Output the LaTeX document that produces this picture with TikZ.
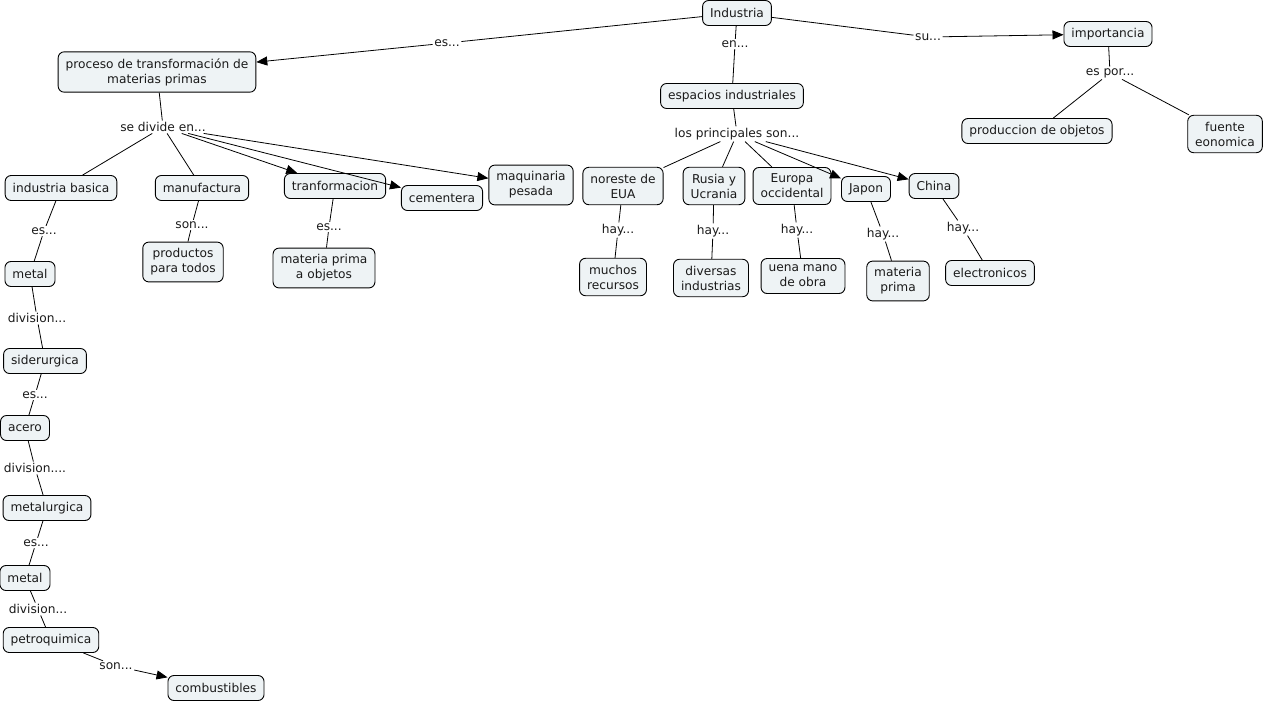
\documentclass[tikz,border=0pt]{standalone}
\usepackage{fontspec}
\setmainfont{DejaVu Sans}
\usetikzlibrary{arrows.meta}
\definecolor{boxfill}{HTML}{EEF3F5}
\definecolor{txt}{HTML}{1A1A1A}
\begin{document}
\begin{tikzpicture}[x=1pt,y=-1pt,
  box/.style={draw=black, fill=boxfill, rounded corners=6pt, line width=0.9pt,
    inner xsep=7.5pt, inner ysep=6.5pt, minimum height=25pt, align=center,
    font=\fontsize{12.2}{15}\selectfont, text=txt},
  lab/.style={inner sep=1.5pt, font=\fontsize{12.2}{14}\selectfont, text=txt},
  ln/.style={draw=black, line width=0.8pt},
  arr/.style={ln, -{Triangle[length=11pt,width=9pt]}}]
\useasboundingbox (0,0) rectangle (1266,702);
% concepts
\node[box] (ind) at (737,13) {Industria};
\node[box] (proc) at (157,72) {proceso de transformación de\\materias primas};
\node[box] (imp) at (1108,34) {importancia};
\node[box] (esp) at (732,96) {espacios industriales};
\node[box] (prod) at (1037,131) {produccion de objetos};
\node[box] (fue) at (1225,134) {fuente\\eonomica};
\node[box] (ib) at (61,188) {industria basica};
\node[box] (man) at (202,188) {manufactura};
\node[box] (tra) at (335,186) {tranformacion};
\node[box] (cem) at (442,198) {cementera};
\node[box] (maq) at (531,185) {maquinaria\\pesada};
\node[box] (nor) at (623,186) {noreste de\\EUA};
\node[box] (rus) at (714,186) {Rusia y\\Ucrania};
\node[box] (eur) at (792,186) {Europa\\occidental};
\node[box] (jap) at (866,189) {Japon};
\node[box] (chi) at (934,186) {China};
\node[box] (met1) at (30,274) {metal};
\node[box] (ppt) at (183,262) {productos\\para todos};
\node[box] (mpo) at (324,268) {materia prima\\a objetos};
\node[box] (muc) at (613,277) {muchos\\recursos};
\node[box] (div) at (711,278) {diversas\\industrias};
\node[box] (uen) at (803,276) {uena mano\\de obra};
\node[box] (mpr) at (898,281) {materia\\prima};
\node[box] (ele) at (990,273) {electronicos};
\node[box] (sid) at (45,361) {siderurgica};
\node[box] (ace) at (25,428) {acero};
\node[box] (mtl) at (47,508) {metalurgica};
\node[box] (met2) at (25,578) {metal};
\node[box] (pet) at (51,640) {petroquimica};
\node[box] (com) at (216,688) {combustibles};
% linking phrases
\node[lab] (l1) at (447,43) {es...};
\node[lab] (l2) at (735,44) {en...};
\node[lab] (l3) at (928,37) {su...};
\node[lab] (l4) at (1110,73) {es por...};
\node[lab] (l5) at (163,127) {se divide en...};
\node[lab] (l6) at (737,134) {los principales son...};
\node[lab] (l7) at (44,231) {es...};
\node[lab] (l8) at (192,225) {son...};
\node[lab] (l9) at (329,227) {es...};
\node[lab] (h1) at (618,230) {hay...};
\node[lab] (h2) at (713,231) {hay...};
\node[lab] (h3) at (797,230) {hay...};
\node[lab] (h4) at (883,234) {hay...};
\node[lab] (h5) at (963,228) {hay...};
\node[lab] (d1) at (37,318) {division...};
\node[lab] (e1) at (35,395) {es...};
\node[lab] (d2) at (35,468) {division....};
\node[lab] (e2) at (36,543) {es...};
\node[lab] (d3) at (38,609) {division...};
\node[lab] (s2) at (116,666) {son...};
% connectors
\draw[ln] (ind) -- (l1); \draw[arr] (l1) -- (proc);
\draw[ln] (ind) -- (l2); \draw[ln] (l2) -- (esp);
\draw[ln] (ind) -- (l3); \draw[arr] (l3) -- (imp);
\draw[ln] (imp) -- (l4); \draw[ln] (l4) -- (prod); \draw[ln] (l4) -- (fue);
\draw[ln] (proc) -- (l5);
\draw[ln] (l5) -- (ib); \draw[ln] (l5) -- (man);
\draw[arr] (l5) -- (tra); \draw[arr] (l5) -- (cem); \draw[arr] (l5) -- (maq);
\draw[ln] (esp) -- (l6);
\draw[ln] (l6) -- (nor); \draw[ln] (l6) -- (rus); \draw[ln] (l6) -- (eur);
\draw[arr] (l6) -- (jap); \draw[arr] (l6) -- (chi);
\draw[ln] (ib) -- (l7); \draw[ln] (l7) -- (met1);
\draw[ln] (man) -- (l8); \draw[ln] (l8) -- (ppt);
\draw[ln] (tra) -- (l9); \draw[ln] (l9) -- (mpo);
\draw[ln] (nor) -- (h1); \draw[ln] (h1) -- (muc);
\draw[ln] (rus) -- (h2); \draw[ln] (h2) -- (div);
\draw[ln] (eur) -- (h3); \draw[ln] (h3) -- (uen);
\draw[ln] (jap) -- (h4); \draw[ln] (h4) -- (mpr);
\draw[ln] (chi) -- (h5); \draw[ln] (h5) -- (ele);
\draw[ln] (met1) -- (d1); \draw[ln] (d1) -- (sid);
\draw[ln] (sid) -- (e1); \draw[ln] (e1) -- (ace);
\draw[ln] (ace) -- (d2); \draw[ln] (d2) -- (mtl);
\draw[ln] (mtl) -- (e2); \draw[ln] (e2) -- (met2);
\draw[ln] (met2) -- (d3); \draw[ln] (d3) -- (pet);
\draw[ln] (pet) -- (s2); \draw[arr] (s2) -- (com);
\end{tikzpicture}
\end{document}
